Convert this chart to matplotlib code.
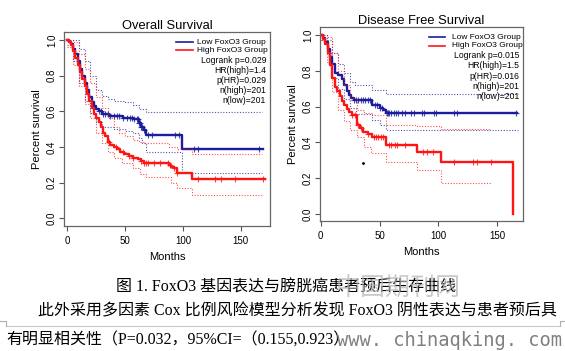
"""
Kaplan-Meier curves for FoxO3 groups (overall / disease free survival)
plus the caption text under the figure.
"""

import numpy as np
import matplotlib
matplotlib.use('Agg')
import matplotlib.pyplot as plt
from matplotlib.lines import Line2D

# ---- overall survival, low FoxO3 group
os_low_t = [0, 1.5, 3, 5, 7, 9, 11, 13, 15, 17, 19, 21, 23, 25, 27, 30, 36, 48, 57, 62, 64, 66, 68, 99.5]
os_low_s = [1.0, 0.99, 0.975, 0.95, 0.92, 0.88, 0.84, 0.80, 0.76, 0.72, 0.68, 0.65, 0.63, 0.615, 0.60,
            0.585, 0.575, 0.565, 0.555, 0.535, 0.515, 0.495, 0.467, 0.387]
os_low_end = 169
os_low_cens = [27, 29, 31, 33, 35, 37, 40, 43, 45, 48, 52, 54, 56, 58, 60, 61, 62, 63, 64, 65, 66,
               70, 73, 93, 97, 110, 113, 166]
os_low_up_t = [0, 5, 10, 15, 20, 25, 30, 35, 40, 50, 57, 62, 68]
os_low_up_s = [1.0, 1.0, 0.95, 0.88, 0.80, 0.72, 0.685, 0.67, 0.66, 0.655, 0.635, 0.615, 0.598]
os_low_lo_t = [0, 5, 10, 15, 20, 25, 30, 40, 50, 57, 62, 65, 68, 99.5]
os_low_lo_s = [0.97, 0.88, 0.76, 0.66, 0.59, 0.54, 0.51, 0.50, 0.49, 0.48, 0.45, 0.42, 0.37, 0.252]
os_ci_end = 168

# ---- overall survival, high FoxO3 group
os_high_t = [0, 1.5, 3, 5, 7, 9, 11, 13, 15, 17, 19, 21, 23, 25, 27, 29, 31, 33, 35, 37, 40, 43, 46,
             49, 53, 57, 61, 64, 66, 88, 90, 92, 94.6, 107.5]
os_high_s = [1.0, 0.99, 0.97, 0.94, 0.90, 0.86, 0.82, 0.78, 0.74, 0.70, 0.66, 0.62, 0.585, 0.565, 0.54,
             0.51, 0.48, 0.46, 0.43, 0.41, 0.40, 0.39, 0.37, 0.36, 0.35, 0.34, 0.33, 0.32, 0.31, 0.30,
             0.29, 0.28, 0.256, 0.218]
os_high_end = 171
os_high_cens = [36, 42, 48, 53, 57, 64, 66, 68, 70, 75, 80, 87, 89, 92, 95, 113, 128, 133, 145, 169]
os_high_up_t = [0, 5, 10, 15, 20, 25, 30, 35, 40, 45, 50, 57, 62, 66, 88, 94.6, 107.5]
os_high_up_s = [1.0, 0.99, 0.92, 0.84, 0.76, 0.68, 0.62, 0.56, 0.51, 0.48, 0.46, 0.44, 0.43, 0.42,
                0.40, 0.39, 0.36]
os_high_lo_t = [0, 5, 10, 15, 20, 25, 30, 35, 40, 47, 57, 63, 68, 89.5, 94.6, 107.5]
os_high_lo_s = [0.96, 0.86, 0.74, 0.64, 0.56, 0.48, 0.42, 0.37, 0.34, 0.31, 0.28, 0.25, 0.232, 0.196,
                0.168, 0.13]

# ---- disease free survival, low FoxO3 group
dfs_low_t = [0, 2, 4, 6, 8, 10, 12, 15, 18, 20, 22, 24, 26, 28, 44, 50, 53, 55.5]
dfs_low_s = [1.0, 0.985, 0.96, 0.92, 0.88, 0.84, 0.79, 0.775, 0.755, 0.72, 0.69, 0.665, 0.65, 0.637,
             0.609, 0.595, 0.581, 0.562]
dfs_low_end = 167
dfs_low_cens = [28, 30, 32, 34, 36, 38, 40, 42, 46, 48, 50, 52, 56, 57, 58, 60, 62, 64, 66, 69, 72,
                77, 79, 86, 88, 96, 98, 113, 116, 166]
dfs_low_up_t = [0, 5, 10, 15, 20, 25, 29, 44, 55.5]
dfs_low_up_s = [1.0, 0.97, 0.90, 0.84, 0.79, 0.74, 0.72, 0.695, 0.669]
dfs_low_lo_t = [0, 5, 10, 15, 20, 25, 30, 44, 50, 55.5]
dfs_low_lo_s = [0.97, 0.90, 0.76, 0.70, 0.64, 0.59, 0.56, 0.525, 0.50, 0.469]
dfs_low_ci_end = 168

# ---- disease free survival, high FoxO3 group
dfs_high_t = [0, 2, 4, 6, 8, 10, 12, 14, 16, 18, 20, 22, 24, 27, 30.5, 33, 36, 40, 44, 55.5, 82,
              102.5, 163]
dfs_high_s = [1.0, 0.98, 0.95, 0.90, 0.83, 0.76, 0.71, 0.69, 0.66, 0.63, 0.61, 0.585, 0.57, 0.555,
              0.495, 0.478, 0.46, 0.445, 0.43, 0.385, 0.345, 0.288, 0.0]
dfs_high_end = 163
dfs_high_cens = [27, 29, 32, 34, 40, 45, 47, 49, 51, 53, 58, 60, 63, 65, 72, 87, 90, 95, 113, 129,
                 133, 145]
dfs_high_up_t = [0, 5, 10, 15, 20, 25, 30.5, 37, 44, 55.5, 82, 102.5]
dfs_high_up_s = [1.0, 0.99, 0.90, 0.80, 0.72, 0.65, 0.58, 0.565, 0.553, 0.50, 0.49, 0.473]
dfs_high_lo_t = [0, 5, 10, 15, 20, 25, 30.5, 37, 43, 55.5, 82, 102.5]
dfs_high_lo_s = [0.97, 0.85, 0.68, 0.58, 0.52, 0.47, 0.43, 0.376, 0.34, 0.292, 0.246, 0.175]
dfs_high_ci_end = 145

os_stats = ['Logrank p=0.029', 'HR(high)=1.4', 'p(HR)=0.029', 'n(high)=201', 'n(low)=201']
dfs_stats = ['Logrank p=0.015', 'HR(high)=1.5', 'p(HR)=0.016', 'n(high)=201', 'n(low)=201']
groups = ['Low FoxO3 Group', 'High FoxO3 Group']

caption_1 = '图 1. FoxO3 基因表达与膀胱癌患者预后生存曲线'
caption_2 = '此外采用多因素 Cox 比例风险模型分析发现 FoxO3 阴性表达与患者预后具'
caption_3 = '有明显相关性（P=0.032，95%CI=（0.155,0.923）'
watermark_url = 'www. chinaqking. com'
watermark_cn = '中国期刊网'

BLUE = '#1c1c9e'
RED = '#ff1414'
W, H = 565, 351


def fx(px):
    return px / W


def fy(py):
    return 1 - py / H


def step_at(t, s, x):
    idx = np.searchsorted(np.asarray(t), x, side='right') - 1
    return np.asarray(s)[idx]


def draw_step(ax, t, s, t_end, **kw):
    tt = list(t) + [t_end]
    ss = list(s) + [s[-1]]
    ax.step(tt, ss, where='post', **kw)


def draw_km(ax, t, s, t_end, cens, up, lo, ci_end, color):
    draw_step(ax, up[0], up[1], ci_end, color=color, lw=0.8, ls=(0, (1, 1.5)), alpha=0.75)
    draw_step(ax, lo[0], lo[1], ci_end, color=color, lw=0.8, ls=(0, (1, 1.5)), alpha=0.75)
    draw_step(ax, t, s, t_end, color=color, lw=1.7)
    ax.plot(cens, step_at(t, s, cens), ls='none', marker='+', ms=5, mew=0.8, color=color, alpha=0.8)


def style_axes(ax, title, xlim, ylim):
    ax.set_xlim(*xlim)
    ax.set_ylim(*ylim)
    ax.set_xticks([0, 50, 100, 150])
    ax.set_yticks([0.0, 0.2, 0.4, 0.6, 0.8, 1.0])
    ax.set_yticklabels(['0.0', '0.2', '0.4', '0.6', '0.8', '1.0'], rotation=90, va='center')
    ax.tick_params(labelsize=7, length=3.5, width=0.8, color='#555555')
    ax.tick_params(axis='x', pad=4)
    ax.tick_params(axis='y', pad=1.5)
    for sp in ax.spines.values():
        sp.set_color('#666666')
        sp.set_linewidth(0.9)
    ax.set_title(title, fontsize=9.3, pad=2)
    ax.set_xlabel('Months', fontsize=8, labelpad=4)
    ax.set_ylabel('Percent survival', fontsize=8, labelpad=3.5)


def draw_legend(ax, x0, x1, xt, xr, ys, stats):
    for y, c, g in zip(ys[:2], [BLUE, RED], groups):
        ax.plot([x0, x1], [y, y], color=c, lw=1.2, transform=ax.transAxes)
        ax.text(xt, y, g, fontsize=6, va='center', ha='left', transform=ax.transAxes)
    for y, st in zip(ys[2:], stats):
        ax.text(xr, y, st, fontsize=6.2, va='center', ha='right', transform=ax.transAxes)


plt.rcParams['font.family'] = ['Liberation Sans', 'DejaVu Sans']
fig = plt.figure(figsize=(W / 100, H / 100), dpi=100)

# overall survival
ax1 = fig.add_axes([fx(64), fy(226), fx(270) - fx(64), fy(32) - fy(226)])
draw_km(ax1, os_low_t, os_low_s, os_low_end, os_low_cens, (os_low_up_t, os_low_up_s),
        (os_low_lo_t, os_low_lo_s), os_ci_end, BLUE)
draw_km(ax1, os_high_t, os_high_s, os_high_end, os_high_cens, (os_high_up_t, os_high_up_s),
        (os_high_lo_t, os_high_lo_s), os_ci_end, RED)
style_axes(ax1, 'Overall Survival', (-2.85, 175.3), (-0.043, 1.045))
draw_legend(ax1, 0.544, 0.626, 0.646, 0.981, [0.948, 0.907, 0.854, 0.803, 0.751, 0.70, 0.648], os_stats)

# disease free survival
ax2 = fig.add_axes([fx(320), fy(221), fx(522.7) - fx(320), fy(27) - fy(221)])
draw_km(ax2, dfs_low_t, dfs_low_s, dfs_low_end, dfs_low_cens, (dfs_low_up_t, dfs_low_up_s),
        (dfs_low_lo_t, dfs_low_lo_s), dfs_low_ci_end, BLUE)
draw_km(ax2, dfs_high_t, dfs_high_s, dfs_high_end, dfs_high_cens, (dfs_high_up_t, dfs_high_up_s),
        (dfs_high_lo_t, dfs_high_lo_s), dfs_high_ci_end, RED)
ax2.plot([36.2], [0.287], ls='none', marker='.', ms=2, color='k')
style_axes(ax2, 'Disease Free Survival', (-0.6, 171.6), (-0.039, 1.045))
draw_legend(ax2, 0.537, 0.619, 0.651, 0.983, [0.947, 0.904, 0.851, 0.799, 0.746, 0.694, 0.643], dfs_stats)

# caption below the figure
cap_font = ['Liberation Serif', 'Noto Sans CJK SC']
fig.text(fx(286), fy(288), caption_1, family=cap_font, fontsize=11.5, ha='center', va='center')
fig.text(fx(38), fy(311), caption_2, family=cap_font, fontsize=11.5, ha='left', va='center')
fig.text(fx(6), fy(341), caption_3, family=cap_font, fontsize=11.5, ha='left', va='center')

# paragraph separator
fig.add_artist(Line2D([fx(7), fx(559)], [fy(326), fy(326)], color='#c8c8c8', lw=0.8))
fig.add_artist(Line2D([fx(0), fx(6), fx(6)], [fy(321), fy(321), fy(326)], color='#b0b0b0', lw=0.8))
fig.add_artist(Line2D([fx(565), fx(560), fx(560)], [fy(321), fy(321), fy(326)], color='#b0b0b0', lw=0.8))

# watermarks (overlap the caption on purpose, as in the scanned page)
fig.text(fx(398), fy(289), watermark_cn, family=['Noto Sans CJK SC'], fontsize=18,
         color='#b4b4b4', alpha=0.7, ha='center', va='center')
fig.text(fx(337), fy(340), watermark_url, family=['DejaVu Sans Mono'], fontsize=13.5,
         color='#808080', ha='left', va='center')

fig.savefig('out.png', dpi=100)
